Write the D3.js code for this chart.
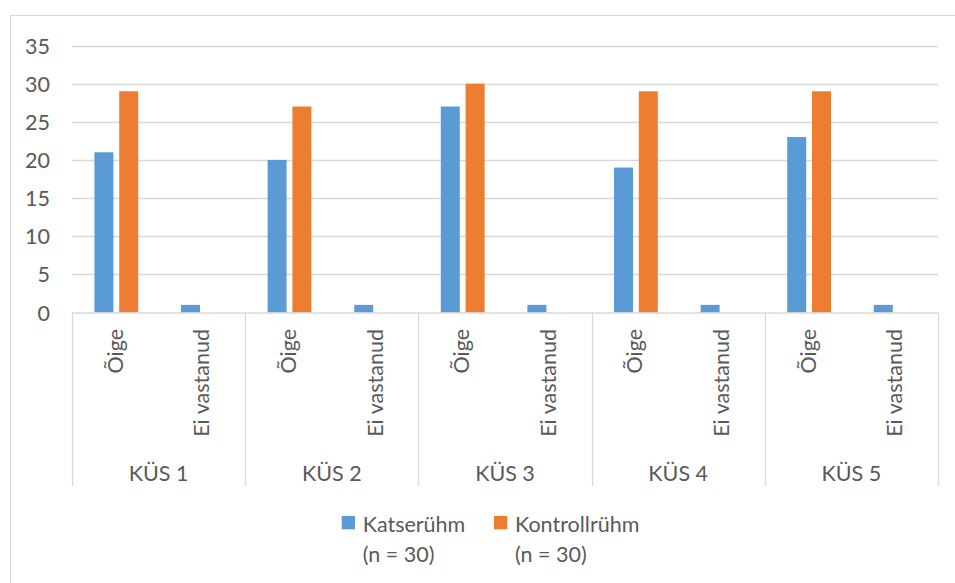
<!DOCTYPE html>
<html>
<head>
<meta charset="utf-8">
<script src="https://cdn.jsdelivr.net/npm/d3@7"></script>
<style>
  html, body { margin: 0; padding: 0; background: #fff; }
  svg { display: block; }
  text { font-family: Lato, "Open Sans", sans-serif; fill: #595959; }
</style>
</head>
<body>
<svg id="chart" width="955" height="583"></svg>
<script>
const groups = ["KÜS 1", "KÜS 2", "KÜS 3", "KÜS 4", "KÜS 5"];
const subcats = ["Õige", "Ei vastanud"];
const seriesNames = ["Katserühm", "Kontrollrühm"];
const seriesSub = ["(n = 30)", "(n = 30)"];
const colors = ["#5B9BD5", "#ED7D31"];
// values per group: [Õige, Ei vastanud]
const katseruhm = [[21, 1], [20, 1], [27, 1], [19, 1], [23, 1]];
const kontrollruhm = [[29, 0], [27, 0], [30, 0], [29, 0], [29, 0]];
const yTicks = [0, 5, 10, 15, 20, 25, 30, 35];

(function () {
const FS = "21.5px";
const svg = d3.select("#chart");
const pLeft = 72, pRight = 938, pTop = 45.5, pBottom = 312.5;

// outer border
svg.append("rect").attr("x", 10.5).attr("y", 15.5).attr("width", 1000).attr("height", 1000)
  .attr("fill", "none").attr("stroke", "#D9D9D9").attr("stroke-width", 1);

const y = d3.scaleLinear().domain([0, 35]).range([pBottom, pTop]);
const x0 = d3.scaleBand().domain(groups).range([pLeft, pRight]);
const x1 = d3.scaleBand().domain(subcats).range([0, x0.bandwidth()]);
const x2 = d3.scaleBand().domain(seriesNames).range([-24.8, 24.8]).paddingInner(0.234).paddingOuter(0.117);

// gridlines
svg.append("g").selectAll("line").data(yTicks.filter(d => d > 0)).join("line")
  .attr("x1", pLeft).attr("x2", pRight)
  .attr("y1", d => Math.round(y(d)) + 0.5).attr("y2", d => Math.round(y(d)) + 0.5)
  .attr("stroke", "#D9D9D9").attr("stroke-width", 1.3);

// y axis labels
const yAxis = d3.axisLeft(y).tickValues(yTicks).tickSize(0).tickPadding(0);
const ya = svg.append("g").attr("transform", `translate(50,0)`).call(yAxis);
ya.select(".domain").remove();
ya.selectAll("text").style("font-size", FS).style("font-family", "Lato, 'Open Sans', sans-serif").attr("fill", "#595959").attr("dy", "0.35em");

// bars
const bars = [];
groups.forEach((g, gi) => {
  subcats.forEach((s, si) => {
    [katseruhm, kontrollruhm].forEach((arr, ki) => {
      bars.push({ g, s, series: seriesNames[ki], value: arr[gi][si], color: colors[ki] });
    });
  });
});
svg.append("g").selectAll("rect").data(bars.filter(d => d.value > 0)).join("rect")
  .attr("x", d => x0(d.g) + x1(d.s) + x1.bandwidth() / 2 + 1 + x2(d.series))
  .attr("width", x2.bandwidth())
  .attr("y", d => y(d.value))
  .attr("height", d => y(0) - y(d.value))
  .attr("fill", d => d.color);

// x axis line and dividers
svg.append("line").attr("x1", pLeft).attr("x2", pRight).attr("y1", pBottom + 0.5).attr("y2", pBottom + 0.5)
  .attr("stroke", "#D9D9D9").attr("stroke-width", 1.3);
const dividers = groups.map(g => x0(g)).concat([pRight]);
svg.append("g").selectAll("line").data(dividers).join("line")
  .attr("x1", d => Math.round(d) + 0.5).attr("x2", d => Math.round(d) + 0.5)
  .attr("y1", pBottom).attr("y2", 486)
  .attr("stroke", "#D9D9D9").attr("stroke-width", 1.3);

// subcategory labels (rotated)
const subLabels = [];
groups.forEach(g => subcats.forEach(s => subLabels.push({ g, s })));
svg.append("g").selectAll("text").data(subLabels).join("text")
  .attr("transform", d => `translate(${x0(d.g) + x1(d.s) + x1.bandwidth() / 2 + 7.5},329) rotate(-90)`)
  .attr("text-anchor", "end")
  .style("font-size", FS)
  .text(d => d.s);

// group labels
svg.append("g").selectAll("text").data(groups).join("text")
  .attr("x", d => x0(d) + x0.bandwidth() / 2)
  .attr("y", 480.5)
  .attr("text-anchor", "middle")
  .style("font-size", FS)
  .text(d => d);

// legend
const legendX = [341.7, 494];
const lg = svg.append("g").selectAll("g").data(seriesNames).join("g")
  .attr("transform", (d, i) => `translate(${legendX[i]},0)`);
lg.append("rect").attr("x", 0).attr("y", 516).attr("width", 13.3).attr("height", 13.3)
  .attr("fill", (d, i) => colors[i]);
lg.append("text").attr("x", 21).attr("y", 531.7).style("font-size", FS).text(d => d);
lg.append("text").attr("x", 21).attr("y", 561.7).style("font-size", FS).text((d, i) => seriesSub[i]);
})();
</script>
</body>
</html>
